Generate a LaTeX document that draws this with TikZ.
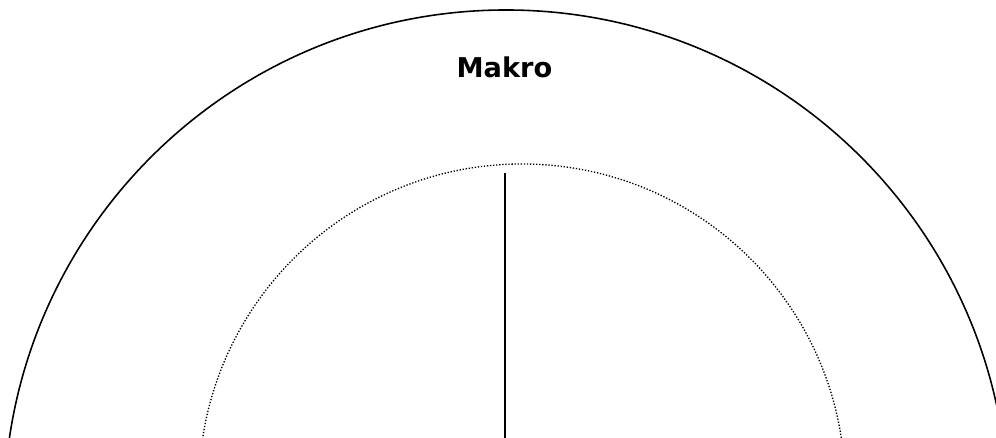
\documentclass[tikz,border=0pt]{standalone}
\usepackage{fontspec}
\newfontfamily\labelfont{DejaVu Sans}

\begin{document}
\begin{tikzpicture}[scale=1, transform shape]
    % Define canvas size
    \def\canvasWidth{19.92}
    \def\canvasHeight{8.76}

    \definecolor{borderColour}{HTML}{000000}

    \useasboundingbox (0,0) rectangle (\canvasWidth,\canvasHeight);
    \clip (0,0) rectangle (\canvasWidth,\canvasHeight);

    % Define the centres of the two circles
    \coordinate (outerCenter) at (10.12,-1.48);
    \coordinate (innerCenter) at (10.44,-0.98);

    % Draw the outer circle
    \draw[draw=borderColour, line width=0.9pt] (outerCenter) circle [radius=10.04cm];

    % Draw the inner dotted circle
    \draw[draw=borderColour, line width=0.75pt, dash pattern=on 0.75pt off 1pt] (innerCenter) circle [radius=6.46cm];

    % Draw the dividing line
    \coordinate (axisTop) at (10.10,5.30);
    \coordinate (axisBottom) at (10.10,0);
    \draw[draw=borderColour, line width=1pt] (axisTop) -- (axisBottom);

    % Label the outer ring
    \node (makro) at (10.09,7.42) {\labelfont\bfseries\fontsize{15.5}{18}\selectfont Makro};

\end{tikzpicture}
\end{document}
